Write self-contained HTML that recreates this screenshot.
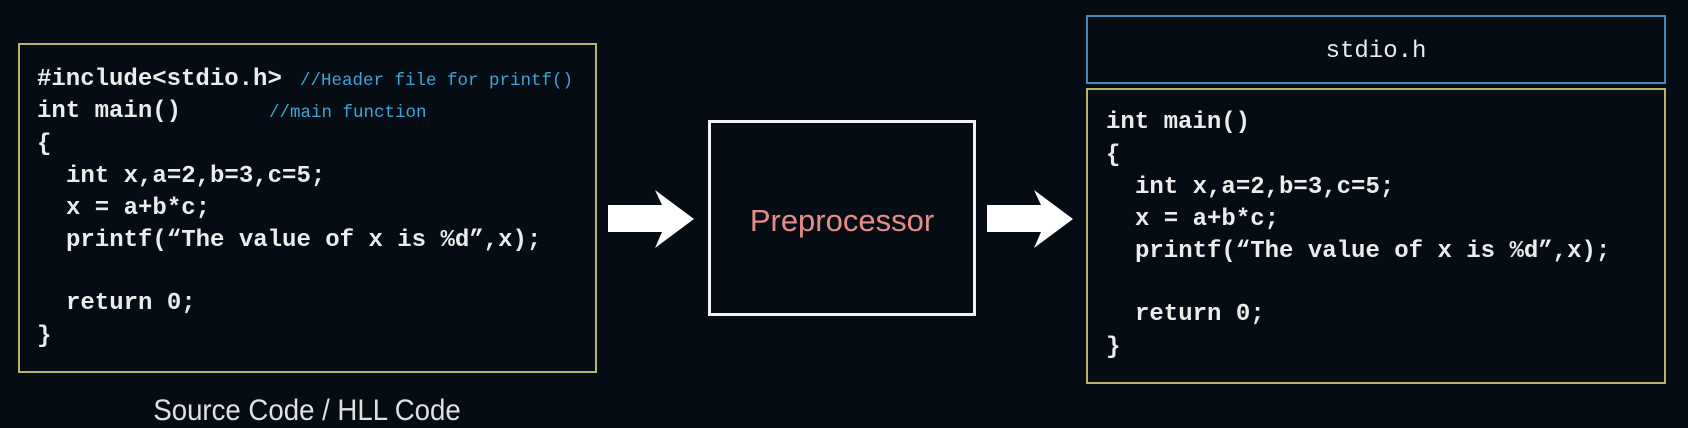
<!DOCTYPE html>
<html><head><meta charset="utf-8"><style>
body{margin:0;width:1688px;height:428px;background:#050c13;overflow:hidden;position:relative;font-family:"Liberation Mono",monospace;}
.box{position:absolute;box-sizing:border-box;}
.l{position:absolute;color:#ececec;font-size:24px;font-weight:bold;line-height:30px;white-space:pre;transform:translateY(-15px);}
.c{position:absolute;color:#3ea6d6;font-size:17.5px;line-height:20px;white-space:pre;transform:translateY(-10px);}
.sans{position:absolute;font-family:"Liberation Sans",sans-serif;white-space:nowrap;transform:translate(-50%,-50%);}
</style></head><body>
<div class="box" style="left:18px;top:43px;width:579px;height:330px;border:2px solid #b5b568;"></div>
<div class="l" style="left:37px;top:80px">#include&lt;stdio.h&gt;</div>
<div class="c" style="left:300px;top:81px">//Header file for printf()</div>
<div class="l" style="left:37px;top:112px">int main()</div>
<div class="c" style="left:269px;top:113px">//main function</div>
<div class="l" style="left:37px;top:145px">{</div>
<div class="l" style="left:66px;top:177px">int x,a=2,b=3,c=5;</div>
<div class="l" style="left:66px;top:209px">x = a+b*c;</div>
<div class="l" style="left:66px;top:241px">printf(“The value of x is %d”,x);</div>
<div class="l" style="left:66px;top:304px">return 0;</div>
<div class="l" style="left:37px;top:337px">}</div>
<div class="sans" style="left:307px;top:411px;color:#e0e0e0;font-size:30px;transform:translate(-50%,-50%) scaleX(0.92);">Source Code / HLL Code</div>

<svg style="position:absolute;left:0;top:0" width="1688" height="428">
<polygon points="608,205 662,205 655,190 694,219 655,248 662,232 608,232" fill="#fff"/>
<polygon points="987,205 1041,205 1034,190 1073,219 1034,248 1041,232 987,232" fill="#fff"/>
</svg>
<div class="box" style="left:708px;top:120px;width:268px;height:196px;border:3px solid #f2f2f2;"></div>
<div class="sans" style="left:842px;top:221px;color:#e88c8a;font-size:31px;">Preprocessor</div>

<div class="box" style="left:1086px;top:15px;width:580px;height:69px;border:2px solid #3a8db6;"></div>
<div class="l" style="left:1086px;width:580px;text-align:center;top:52px;font-weight:normal">stdio.h</div>
<div class="box" style="left:1086px;top:88px;width:580px;height:296px;border:2px solid #b5b568;"></div>
<div class="l" style="left:1106px;top:123px">int main()</div>
<div class="l" style="left:1106px;top:156px">{</div>
<div class="l" style="left:1135px;top:188px">int x,a=2,b=3,c=5;</div>
<div class="l" style="left:1135px;top:220px">x = a+b*c;</div>
<div class="l" style="left:1135px;top:252px">printf(“The value of x is %d”,x);</div>
<div class="l" style="left:1135px;top:315px">return 0;</div>
<div class="l" style="left:1106px;top:348px">}</div>
</body></html>
